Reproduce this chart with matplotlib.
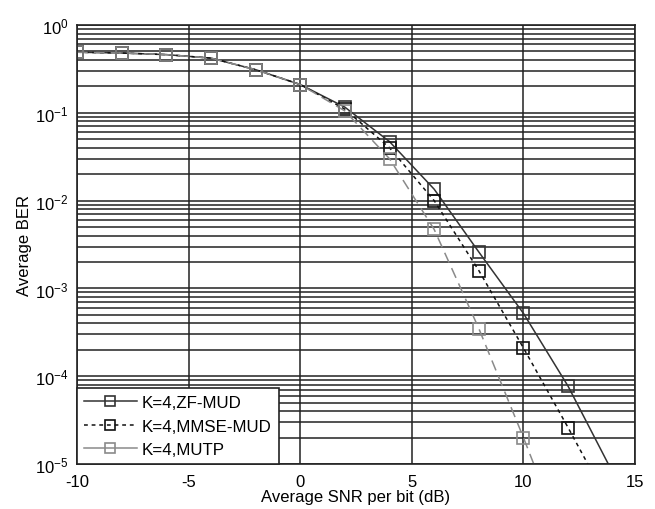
import numpy as np
import matplotlib
matplotlib.use('Agg')
from matplotlib import pyplot as plt
from matplotlib.ticker import LogLocator, NullFormatter

plt.rcParams['font.family'] = ['Liberation Sans', 'DejaVu Sans']
plt.rcParams['mathtext.fontset'] = 'custom'
plt.rcParams['mathtext.rm'] = 'Liberation Sans'
plt.rcParams['axes.unicode_minus'] = False

# simulated points (markers)
snr = [-10, -8, -6, -4, -2, 0, 2, 4, 6, 8, 10, 12]
ber_zf = [0.49, 0.48, 0.46, 0.42, 0.31, 0.21, 0.116, 0.047, 0.0135, 0.0026, 0.00052, 7.7e-5]
ber_mmse = [0.49, 0.48, 0.46, 0.42, 0.31, 0.21, 0.11, 0.040, 0.0100, 0.0016, 0.00021, 2.6e-5]
snr_mutp = [-10, -8, -6, -4, -2, 0, 2, 4, 6, 8, 10]
ber_mutp = [0.49, 0.48, 0.46, 0.42, 0.31, 0.21, 0.105, 0.030, 0.0047, 0.00035, 2.0e-5]

# curves run a little past the last marker
snr_zf_line = snr + [14]
zf_line = ber_zf + [8e-6]
snr_mmse_line = snr + [14]
mmse_line = ber_mmse + [3e-6]
snr_mutp_line = snr_mutp + [12]
mutp_line = ber_mutp + [1e-6]

fig = plt.figure(figsize=(6.55, 5.1), dpi=100)
ax = fig.add_axes([0.1176, 0.088, 0.852, 0.861])

ax.semilogy(snr_zf_line, zf_line, '-', color='#333333', lw=1.1)
ax.semilogy(snr_mmse_line, mmse_line, '--', color='#111111', lw=1.1, dashes=(2.5, 2.5))
ax.semilogy(snr_mutp_line, mutp_line, '--', color='#8a8a8a', lw=1.1, dashes=(7, 4))

ax.semilogy(snr, ber_zf, 's', color='#333333', mfc='none', ms=8, mew=1.2)
ax.semilogy(snr, ber_mmse, 's', color='#111111', mfc='none', ms=8, mew=1.2)
ax.semilogy(snr_mutp, ber_mutp, 's', color='#8a8a8a', mfc='none', ms=8, mew=1.2)

# legend proxies
h1, = ax.plot([], [], '-s', color='#333333', mfc='none', ms=7, lw=1.1, mew=1.2)
h2, = ax.plot([], [], '--s', color='#111111', mfc='none', ms=7, lw=1.1, mew=1.2, dashes=(2.5, 2.5))
h3, = ax.plot([], [], '-s', color='#8a8a8a', mfc='none', ms=7, lw=1.1, mew=1.2)
leg = ax.legend([h1, h2, h3], ['K=4,ZF-MUD', 'K=4,MMSE-MUD', 'K=4,MUTP'],
                loc='lower left', fontsize=12.2, fancybox=False, framealpha=1,
                edgecolor='#222222', borderaxespad=0, handlelength=3.1,
                handletextpad=0.3, labelspacing=0.5, borderpad=0.42)
leg.get_frame().set_linewidth(1.2)

ax.set_xlim(-10, 15)
ax.set_ylim(1e-5, 1)
ax.set_xticks([-10, -5, 0, 5, 10, 15])
ax.yaxis.set_major_locator(LogLocator(base=10, numticks=10))
ax.yaxis.set_minor_locator(LogLocator(base=10, subs=np.arange(2, 10), numticks=20))
ax.yaxis.set_minor_formatter(NullFormatter())
ax.grid(True, which='major', color='#222222', lw=1.1)
ax.grid(True, which='minor', axis='y', color='#222222', lw=1.1)
ax.set_axisbelow(True)
ax.tick_params(which='both', direction='in', labelsize=12, length=0)
ax.tick_params(axis='x', pad=7)
ax.tick_params(axis='y', pad=6)
for s in ax.spines.values():
    s.set_linewidth(1.2)
    s.set_color('#222222')

ax.set_xlabel('Average SNR per bit (dB)', fontsize=12, labelpad=0)
ax.set_ylabel('Average BER', fontsize=12, labelpad=2)

fig.savefig('out.png', dpi=100)
